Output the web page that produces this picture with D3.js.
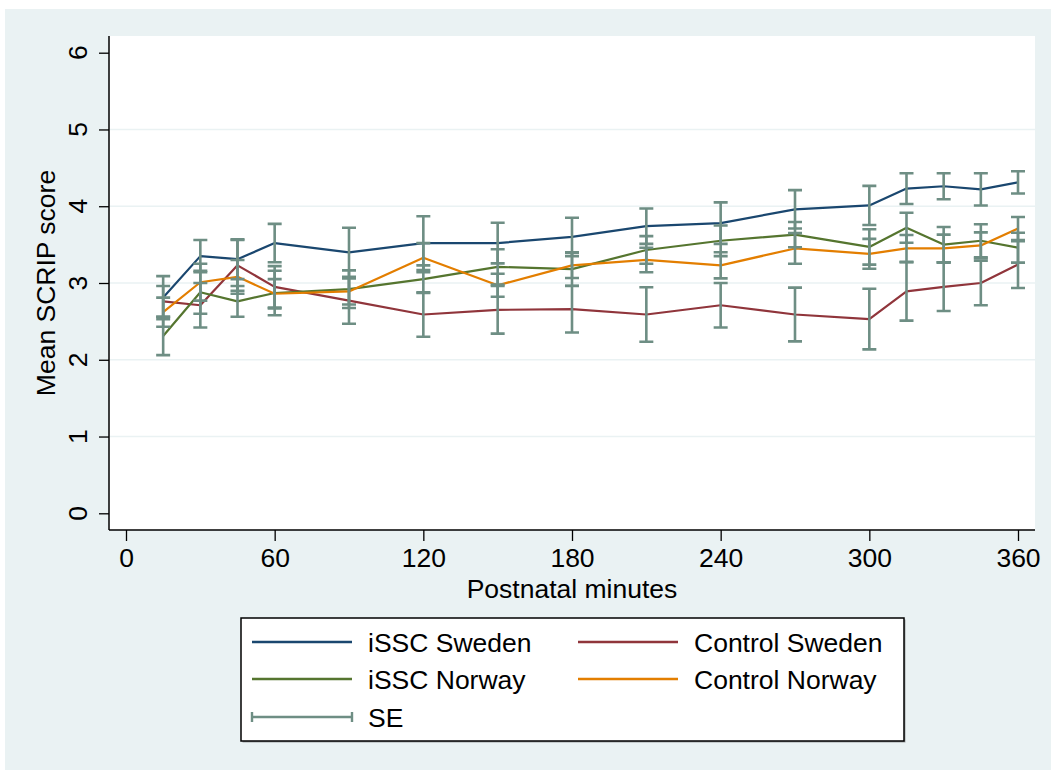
<!DOCTYPE html>
<html>
<head>
<meta charset="utf-8">
<script src="https://cdn.jsdelivr.net/npm/d3@7"></script>
<style>
  html, body { margin: 0; padding: 0; background: #fff; }
  svg { display: block; }
  text { font-family: "Liberation Sans", Arial, Helvetica, sans-serif; fill: #000; }
</style>
</head>
<body>
<svg id="chart" width="1051" height="770"></svg>
<script>
// ── Data ──────────────────────────────────────────────────────────
const minutes = [15, 30, 45, 60, 90, 120, 150, 180, 210, 240, 270, 300, 315, 330, 345, 360];

const isscSwedenMean  = [2.81, 3.35, 3.31, 3.52, 3.40, 3.52, 3.52, 3.60, 3.74, 3.78, 3.96, 4.01, 4.23, 4.26, 4.22, 4.31];
const isscSwedenSE    = [0.28, 0.21, 0.26, 0.25, 0.32, 0.35, 0.265, 0.25, 0.23, 0.27, 0.25, 0.255, 0.20, 0.17, 0.21, 0.145];

const controlSwedenMean = [2.76, 2.71, 3.23, 2.95, 2.77, 2.59, 2.65, 2.66, 2.59, 2.71, 2.59, 2.53, 2.89, 2.95, 3.00, 3.24];
const controlSwedenSE   = [0.20, 0.29, 0.33, 0.27, 0.30, 0.29, 0.31, 0.305, 0.355, 0.29, 0.35, 0.395, 0.38, 0.315, 0.29, 0.305];

const isscNorwayMean  = [2.31, 2.88, 2.76, 2.87, 2.92, 3.05, 3.21, 3.18, 3.43, 3.55, 3.63, 3.47, 3.72, 3.50, 3.55, 3.46];
const isscNorwaySE    = [0.25, 0.28, 0.20, 0.29, 0.245, 0.18, 0.23, 0.22, 0.18, 0.20, 0.165, 0.23, 0.195, 0.23, 0.215, 0.195];

const controlNorwayMean = [2.62, 3.01, 3.08, 2.86, 2.89, 3.33, 2.97, 3.23, 3.30, 3.23, 3.45, 3.38, 3.45, 3.45, 3.49, 3.71];
const controlNorwaySE   = [0.19, 0.24, 0.22, 0.19, 0.17, 0.19, 0.15, 0.165, 0.16, 0.17, 0.20, 0.195, 0.175, 0.18, 0.17, 0.15];

const xTicks = [0, 60, 120, 180, 240, 300, 360];
const yTicks = [0, 1, 2, 3, 4, 5, 6];
const gridTicks = [1, 2, 3, 4, 5];

const series = [
  { name: 'iSSC Sweden',    mean: isscSwedenMean,    se: isscSwedenSE,    color: '#1a476f' },
  { name: 'Control Sweden', mean: controlSwedenMean, se: controlSwedenSE, color: '#90353b' },
  { name: 'iSSC Norway',    mean: isscNorwayMean,    se: isscNorwaySE,    color: '#55752f' },
  { name: 'Control Norway', mean: controlNorwayMean, se: controlNorwaySE, color: '#e37e00' }
];

const SE_COLOR = '#6e8e84';
const BG       = '#eaf2f3';
const FONT     = 26.5;

// ── Layout ────────────────────────────────────────────────────────
const plot = { left: 109, top: 36, right: 1035, bottom: 530 };

const svg = d3.select('#chart');

// outer graph region
svg.append('rect')
  .attr('x', 5).attr('y', 9)
  .attr('width', 1051 - 5).attr('height', 770 - 9)
  .attr('fill', BG);

// plot region
svg.append('rect')
  .attr('x', plot.left).attr('y', plot.top)
  .attr('width', plot.right - plot.left).attr('height', plot.bottom - plot.top)
  .attr('fill', '#fff');

const x = d3.scaleLinear().domain([0, 360]).range([126, 1018]);
const y = d3.scaleLinear().domain([0, 6]).range([513.3, 52.7]);

// gridlines
svg.append('g')
  .selectAll('line')
  .data(gridTicks)
  .join('line')
  .attr('x1', plot.left + 1).attr('x2', plot.right)
  .attr('y1', d => y(d)).attr('y2', d => y(d))
  .attr('stroke', BG)
  .attr('stroke-width', 1.6);

// ── Axes ──────────────────────────────────────────────────────────
const yAxis = svg.append('g')
  .attr('transform', `translate(${plot.left},0)`)
  .call(d3.axisLeft(y).tickValues(yTicks).tickSize(10).tickFormat(''));
yAxis.select('.domain')
  .attr('d', `M0,${plot.top}V${plot.bottom}`)
  .attr('stroke', '#000').attr('stroke-width', 1.5);
yAxis.selectAll('.tick line').attr('stroke', '#000').attr('stroke-width', 1.3);
yAxis.selectAll('.tick text').remove();

// rotated y tick labels (Stata style, reading upwards)
svg.append('g')
  .selectAll('text')
  .data(yTicks)
  .join('text')
  .attr('transform', d => `translate(87,${y(d)}) rotate(-90)`)
  .attr('text-anchor', 'middle')
  .attr('font-size', FONT)
  .text(d => d);

const xAxis = svg.append('g')
  .attr('transform', `translate(0,${plot.bottom})`)
  .call(d3.axisBottom(x).tickValues(xTicks).tickSize(11).tickPadding(0).tickFormat(d3.format('d')));
xAxis.select('.domain')
  .attr('d', `M${plot.left},0H${plot.right}`)
  .attr('stroke', '#000').attr('stroke-width', 1.5);
xAxis.selectAll('.tick line').attr('stroke', '#000').attr('stroke-width', 1.3);
xAxis.selectAll('.tick text')
  .attr('font-size', FONT)
  .attr('fill', '#000')
  .attr('dy', null)
  .attr('y', 37);

// axis titles
svg.append('text')
  .attr('x', (plot.left + plot.right) / 2)
  .attr('y', 598)
  .attr('text-anchor', 'middle')
  .attr('font-size', FONT)
  .text('Postnatal minutes');

svg.append('text')
  .attr('transform', `translate(55,${(plot.top + plot.bottom) / 2}) rotate(-90)`)
  .attr('text-anchor', 'middle')
  .attr('font-size', FONT)
  .text('Mean SCRIP score');

// ── Lines ─────────────────────────────────────────────────────────
const line = d3.line()
  .x((d, i) => x(minutes[i]))
  .y(d => y(d));

svg.append('g')
  .selectAll('path')
  .data(series)
  .join('path')
  .attr('d', s => line(s.mean))
  .attr('fill', 'none')
  .attr('stroke', s => s.color)
  .attr('stroke-width', 2.2)
  .attr('stroke-linejoin', 'round');

// ── SE bars ───────────────────────────────────────────────────────
const CAP = 7;
const bars = [];
series.forEach(s => {
  s.mean.forEach((m, i) => {
    bars.push({ t: minutes[i], lo: m - s.se[i], hi: m + s.se[i] });
  });
});

const gBars = svg.append('g')
  .attr('stroke', SE_COLOR)
  .attr('stroke-width', 2.6)
  .attr('fill', 'none');

gBars.selectAll('path')
  .data(bars)
  .join('path')
  .attr('d', b => {
    const cx = x(b.t), y0 = y(b.lo), y1 = y(b.hi);
    return `M${cx},${y0}V${y1}M${cx - CAP},${y1}H${cx + CAP}M${cx - CAP},${y0}H${cx + CAP}`;
  });

// ── Legend ────────────────────────────────────────────────────────
const legend = { x: 241, y: 618, w: 663, h: 123 };
svg.append('rect')
  .attr('x', legend.x + 1.5).attr('y', legend.y + 1.5)
  .attr('width', legend.w).attr('height', legend.h)
  .attr('fill', '#5a5a5a').attr('opacity', 0.5);
svg.append('rect')
  .attr('x', legend.x).attr('y', legend.y)
  .attr('width', legend.w).attr('height', legend.h)
  .attr('fill', '#fff')
  .attr('stroke', '#000')
  .attr('stroke-width', 1.5);

const legendItems = [
  { label: 'iSSC Sweden',    color: series[0].color, col: 0, row: 0 },
  { label: 'Control Sweden', color: series[1].color, col: 1, row: 0 },
  { label: 'iSSC Norway',    color: series[2].color, col: 0, row: 1 },
  { label: 'Control Norway', color: series[3].color, col: 1, row: 1 },
  { label: 'SE',             color: SE_COLOR,        col: 0, row: 2, se: true }
];
const colX = [252, 578];
const rowY = [642, 679, 717];

legendItems.forEach(it => {
  const lx = colX[it.col], ly = rowY[it.row];
  const g = svg.append('g');
  if (it.se) {
    g.append('path')
      .attr('d', `M${lx},${ly}H${lx + 100}M${lx},${ly - 5}V${ly + 5}M${lx + 100},${ly - 5}V${ly + 5}`)
      .attr('stroke', it.color).attr('stroke-width', 2.4).attr('fill', 'none');
  } else {
    g.append('line')
      .attr('x1', lx).attr('x2', lx + 100)
      .attr('y1', ly).attr('y2', ly)
      .attr('stroke', it.color).attr('stroke-width', 2.4);
  }
  g.append('text')
    .attr('x', lx + 116)
    .attr('y', ly + 9.5)
    .attr('font-size', FONT)
    .text(it.label);
});
</script>
</body>
</html>
